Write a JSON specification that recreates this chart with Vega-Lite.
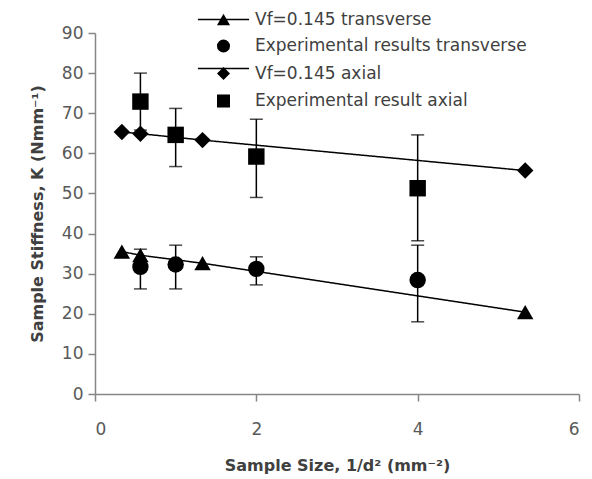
{
  "$schema": "https://vega.github.io/schema/vega-lite/v6.json",
  "width": 484,
  "height": 361,
  "autosize": {"type": "none"},
  "padding": {"left": 95, "top": 33, "right": 13, "bottom": 85},
  "background": "white",
  "config": {
    "view": {"stroke": null},
    "axis": {
      "grid": false,
      "domainColor": "#868686",
      "domainWidth": 1.5,
      "tickColor": "#868686",
      "tickWidth": 1.5,
      "tickSize": 7,
      "labelFont": "DejaVu Sans",
      "labelFontSize": 17,
      "labelColor": "#595959",
      "titleFont": "DejaVu Sans",
      "titleFontSize": 16,
      "titleFontWeight": "bold",
      "titleColor": "#404040"
    }
  },
  "data": {
    "values": [
      {"series": "Vf=0.145 transverse", "kind": "model", "x": 0.333, "y": 35.5},
      {"series": "Vf=0.145 transverse", "kind": "model", "x": 0.563, "y": 34.6},
      {"series": "Vf=0.145 transverse", "kind": "model", "x": 1.333, "y": 32.6},
      {"series": "Vf=0.145 transverse", "kind": "model", "x": 5.333, "y": 20.4},
      {"series": "Vf=0.145 axial", "kind": "model", "x": 0.333, "y": 65.3},
      {"series": "Vf=0.145 axial", "kind": "model", "x": 0.563, "y": 64.9},
      {"series": "Vf=0.145 axial", "kind": "model", "x": 1.333, "y": 63.3},
      {"series": "Vf=0.145 axial", "kind": "model", "x": 5.333, "y": 55.7},
      {"series": "Experimental results transverse", "kind": "exp", "x": 0.563, "y": 31.7, "lo": 26.2, "hi": 36.1},
      {"series": "Experimental results transverse", "kind": "exp", "x": 1.0, "y": 32.3, "lo": 26.2, "hi": 37.1},
      {"series": "Experimental results transverse", "kind": "exp", "x": 2.0, "y": 31.2, "lo": 27.2, "hi": 34.2},
      {"series": "Experimental results transverse", "kind": "exp", "x": 4.0, "y": 28.4, "lo": 18.0, "hi": 37.1},
      {"series": "Experimental result axial", "kind": "exp", "x": 0.563, "y": 72.9, "lo": 65.8, "hi": 80.0},
      {"series": "Experimental result axial", "kind": "exp", "x": 1.0, "y": 64.6, "lo": 56.7, "hi": 71.2},
      {"series": "Experimental result axial", "kind": "exp", "x": 2.0, "y": 59.2, "lo": 49.0, "hi": 68.5},
      {"series": "Experimental result axial", "kind": "exp", "x": 4.0, "y": 51.3, "lo": 38.2, "hi": 64.6}
    ]
  },
  "layer": [
    {
      "transform": [{"filter": "datum.kind === 'model'"}],
      "mark": {"type": "line", "color": "black", "strokeWidth": 1.5},
      "encoding": {
        "x": {"field": "x", "type": "quantitative", "scale": {"domain": [0, 6], "nice": false},
              "axis": {"title": "Sample Size, 1/d² (mm⁻²)", "values": [0, 2, 4, 6], "format": "d", "labelPadding": 20, "titlePadding": 20}},
        "y": {"field": "y", "type": "quantitative", "scale": {"domain": [0, 90], "nice": false},
              "axis": {"title": "Sample Stiffness, K (Nmm⁻¹)", "values": [0, 10, 20, 30, 40, 50, 60, 70, 80, 90], "labelPadding": 5, "titlePadding": 16}},
        "strokeDash": {
          "field": "series",
          "type": "nominal",
          "scale": {
            "domain": ["Vf=0.145 transverse", "Experimental results transverse", "Vf=0.145 axial", "Experimental result axial", " "],
            "range": [[1, 0], [0, 1000], [1, 0], [0, 1000], [0, 1000]]
          },
          "legend": {
            "title": null,
            "orient": "none",
            "legendX": 120,
            "legendY": -22,
            "padding": 0,
            "symbolType": "M-3.92,0H3.92",
            "symbolSize": 170,
            "symbolStrokeColor": "black",
            "symbolStrokeWidth": 1.5,
            "symbolOpacity": 1,
            "labelOffset": 23,
            "rowPadding": 6.5,
            "labelExpr": "' '",
            "labelFont": "DejaVu Sans",
            "labelFontSize": 17,
            "labelLimit": 500
          }
        }
      }
    },
    {
      "transform": [{"filter": "datum.kind === 'exp'"}],
      "mark": {"type": "rule", "color": "black", "strokeWidth": 1.5},
      "encoding": {
        "x": {"field": "x", "type": "quantitative"},
        "y": {"field": "lo", "type": "quantitative"},
        "y2": {"field": "hi"}
      }
    },
    {
      "transform": [{"filter": "datum.kind === 'exp'"}],
      "mark": {"type": "tick", "orient": "horizontal", "color": "black", "size": 13, "thickness": 1.5},
      "encoding": {
        "x": {"field": "x", "type": "quantitative"},
        "y": {"field": "lo", "type": "quantitative"}
      }
    },
    {
      "transform": [{"filter": "datum.kind === 'exp'"}],
      "mark": {"type": "tick", "orient": "horizontal", "color": "black", "size": 13, "thickness": 1.5},
      "encoding": {
        "x": {"field": "x", "type": "quantitative"},
        "y": {"field": "hi", "type": "quantitative"}
      }
    },
    {
      "mark": {"type": "point", "filled": true, "color": "black", "opacity": 1, "size": 270},
      "encoding": {
        "x": {"field": "x", "type": "quantitative"},
        "y": {"field": "y", "type": "quantitative"},
        "shape": {
          "field": "series",
          "type": "nominal",
          "scale": {
            "domain": ["Vf=0.145 transverse", "Experimental results transverse", "Vf=0.145 axial", "Experimental result axial"],
            "range": ["triangle-up", "circle", "diamond", "square"]
          },
          "legend": {
            "title": null,
            "orient": "none",
            "legendX": 120,
            "legendY": -22,
            "padding": 0,
            "symbolSize": 170,
            "labelOffset": 23,
            "rowPadding": 6.5,
            "labelLimit": 500,
            "labelFont": "DejaVu Sans",
            "labelFontSize": 17,
            "labelColor": "#404040",
            "symbolFillColor": "black",
            "symbolStrokeColor": "black",
            "symbolStrokeWidth": 1.5,
            "symbolOpacity": 1
          }
        }
      }
    }
  ]
}
